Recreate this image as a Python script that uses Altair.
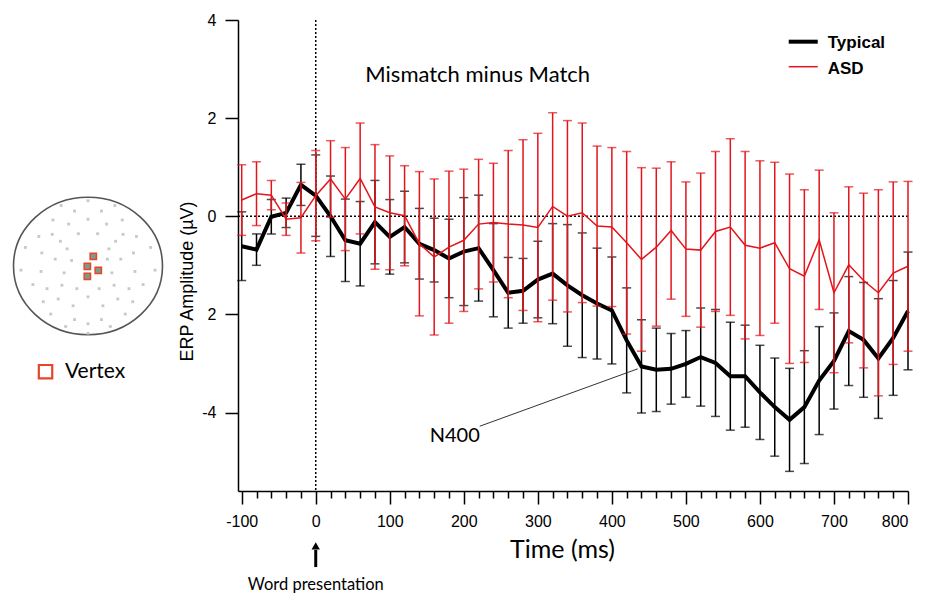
import altair as alt
import pandas as pd

# ---------------------------------------------------------------
# Grand-average difference waves (Mismatch minus Match), vertex
# ---------------------------------------------------------------
times = list(range(-100, 801, 20))

typical_mean = [-0.61, -0.68, -0.01, 0.07, 0.64, 0.42, 0.00, -0.49, -0.56, -0.12,
                -0.42, -0.22, -0.56, -0.69, -0.86, -0.72, -0.65, -1.10, -1.56, -1.52,
                -1.29, -1.17, -1.41, -1.61, -1.78, -1.92, -2.53, -3.06, -3.13, -3.11,
                -3.01, -2.87, -2.99, -3.26, -3.26, -3.59, -3.89, -4.15, -3.89, -3.35,
                -2.95, -2.34, -2.52, -2.90, -2.48, -1.93]
typical_err = [0.70, 0.32, 0.35, 0.30, 0.42, 0.83, 0.82, 0.84, 0.86, 0.85,
               0.76, 0.73, 0.72, 0.65, 0.80, 1.10, 1.08, 0.95, 0.72, 0.66,
               0.78, 1.02, 1.24, 1.27, 1.13, 1.09, 1.07, 0.95, 0.85, 0.72,
               0.68, 1.00, 1.09, 1.10, 1.04, 0.96, 1.00, 1.05, 1.15, 1.10,
               0.98, 1.11, 1.17, 1.22, 1.17, 1.20]

asd_mean = [0.33, 0.46, 0.43, -0.06, -0.03, 0.42, 0.76, 0.35, 0.77, 0.19,
            0.07, 0.01, -0.56, -0.83, -0.63, -0.49, -0.16, -0.13, -0.16, -0.18,
            -0.23, 0.20, 0.00, 0.07, -0.20, -0.22, -0.54, -0.88, -0.63, -0.29,
            -0.67, -0.69, -0.31, -0.22, -0.59, -0.65, -0.54, -1.07, -1.22, -0.48,
            -1.56, -0.99, -1.31, -1.56, -1.16, -1.02]
asd_err = [0.72, 0.65, 0.30, 0.33, 0.72, 0.92, 0.78, 1.05, 1.13, 1.27,
           1.16, 1.02, 1.47, 1.59, 1.55, 1.45, 1.32, 1.21, 1.50, 1.74,
           1.92, 1.91, 1.95, 1.83, 1.63, 1.62, 1.86, 1.87, 1.61, 1.40,
           1.37, 1.57, 1.63, 1.80, 1.91, 1.78, 1.64, 1.93, 1.76, 1.42,
           1.63, 1.59, 1.78, 2.10, 1.86, 1.73]

groups = ["Typical", "ASD"]
group_colors = ["#000000", "#e3141b"]
line_widths = [4, 1.5]

x_ticks = list(range(-100, 801, 20))
y_ticks = [-4, -2, 0, 2, 4]

# Electrode montage (unit head coordinates) and the vertex cluster
elec_u = [0.00, -0.36, 0.36, -0.18, 0.18, -0.47, 0.00, 0.46, -0.26, 0.25,
          -0.66, -0.48, -0.13, 0.13, 0.47, 0.65, -0.37, 0.37, -0.84, -0.62,
          -0.28, 0.28, 0.61, 0.84, -0.44, -0.22, 0.26, 0.44, -0.90, -0.63,
          -0.32, 0.32, 0.63, 0.90, -0.74, -0.55, -0.35, -0.15, 0.15, 0.35,
          0.55, 0.74, -0.60, -0.40, -0.20, 0.00, 0.20, 0.40, 0.60, -0.50,
          -0.18, 0.18, 0.50, -0.30, 0.00, 0.30, 0.00]
elec_v = [0.95, 0.88, 0.88, 0.80, 0.80, 0.67, 0.68, 0.67, 0.61, 0.61,
          0.43, 0.46, 0.47, 0.47, 0.46, 0.43, 0.36, 0.36, 0.27, 0.19,
          0.25, 0.25, 0.19, 0.27, 0.10, 0.08, 0.10, 0.10, -0.06, -0.08,
          -0.10, -0.10, -0.08, -0.06, -0.27, -0.33, -0.28, -0.33, -0.33, -0.28,
          -0.33, -0.27, -0.52, -0.48, -0.58, -0.45, -0.58, -0.48, -0.52, -0.70,
          -0.78, -0.78, -0.70, -0.88, -0.84, -0.88, -0.98]
vertex_u = [0.071, -0.009, 0.138, -0.009]
vertex_v = [0.140, -0.006, -0.064, -0.151]

# ---------------------------------------------------------------
# Main ERP panel
# ---------------------------------------------------------------
TICK_FONT = "Liberation Sans"
TEXT_FONT = "Lato"

x_scale = alt.Scale(domain=[-105, 800], nice=False, zero=False)
y_scale = alt.Scale(domain=[-5.6, 4], nice=False, zero=False)

x_axis = alt.Axis(
    values=x_ticks,
    labelExpr="datum.value % 100 === 0 ? toString(datum.value) : ''",
    tickSize={"condition": {"test": "datum.value % 100 === 0", "value": 13}, "value": 7},
    tickWidth=1.5, tickColor="black", domainColor="black", domainWidth=1.5,
    labelFont=TICK_FONT, labelFontSize=16, labelColor="black", labelPadding=9,
    labelOverlap=False, grid=False,
    title="Time (ms)", titleFont=TEXT_FONT, titleFontSize=25,
    titleFontWeight="normal", titleColor="black", titlePadding=8, titleX=324,
)
y_axis = alt.Axis(
    values=y_ticks,
    labelExpr="datum.value === -2 ? '2' : toString(datum.value)",
    tickSize=13, tickWidth=1.5, tickColor="black", domainColor="black", domainWidth=1.5,
    labelFont=TICK_FONT, labelFontSize=16, labelColor="black", labelPadding=9,
    grid=False,
    title="ERP Amplitude (µV)", titleFont=TICK_FONT, titleFontSize=18,
    titleFontWeight="normal", titleColor="black", titlePadding=5, titleY=261,
)


def X(field):
    return alt.X(field, type="quantitative", scale=x_scale, axis=x_axis)


def Y(field):
    return alt.Y(field, type="quantitative", scale=y_scale, axis=y_axis)


rows = []
for g, means, errs in [("Typical", typical_mean, typical_err), ("ASD", asd_mean, asd_err)]:
    for t, m, e in zip(times, means, errs):
        rows.append({"group": g, "time": t, "amp": m, "lo": m - e, "hi": m + e})
erp = pd.DataFrame(rows)

zero_h = alt.Chart(pd.DataFrame({"v": [0]})).mark_rule(
    color="black", strokeWidth=1.5, strokeDash=[2, 2]
).encode(y=Y("v"))
zero_v = alt.Chart(pd.DataFrame({"t": [0]})).mark_rule(
    color="black", strokeWidth=1.5, strokeDash=[2, 2]
).encode(x=X("t"))


def series(group, color, width):
    d = erp[erp["group"] == group]
    base = alt.Chart(d)
    bars = base.mark_rule(color=color, strokeWidth=1.5).encode(
        x=X("time"), y=Y("lo"), y2="hi")
    cap_lo = base.mark_tick(color=color, orient="horizontal", size=9, thickness=1.5).encode(
        x=X("time"), y=Y("lo"))
    cap_hi = base.mark_tick(color=color, orient="horizontal", size=9, thickness=1.5).encode(
        x=X("time"), y=Y("hi"))
    line = base.mark_line(color=color, strokeWidth=width).encode(
        x=X("time"), y=Y("amp"))
    return [bars, cap_lo, cap_hi, line]


layers = [zero_h, zero_v]
for g, c, w in zip(groups, group_colors, line_widths):
    layers += series(g, c, w)

# Panel heading
heading = alt.Chart(pd.DataFrame({"t": [218.8], "v": [2.88], "s": ["Mismatch minus Match"]})).mark_text(
    font=TEXT_FONT, fontSize=22, color="black", align="center", baseline="middle"
).encode(x=X("t"), y=Y("v"), text="s")

# N400 callout
n400_line = alt.Chart(pd.DataFrame({"t": [221.5], "v": [-4.28], "t2": [434.9], "v2": [-3.11]})).mark_rule(
    color="#333333", strokeWidth=1
).encode(x=X("t"), y=Y("v"), x2="t2", y2="v2")
n400_text = alt.Chart(pd.DataFrame({"t": [153.9], "v": [-4.48], "s": ["N400"]})).mark_text(
    font=TEXT_FONT, fontSize=20, color="black", align="left", baseline="middle"
).encode(x=X("t"), y=Y("v"), text="s")

# Series key
key = pd.DataFrame({
    "group": groups, "t": [638.9, 638.9], "t2": [678.1, 678.1],
    "v": [3.558, 3.048], "tl": [691.6, 691.6], "vl": [3.53, 3.0],
})
key_lines = alt.Chart(key).mark_rule().encode(
    x=X("t"), x2="t2", y=Y("v"),
    color=alt.Color("group:N", scale=alt.Scale(domain=groups, range=group_colors), legend=None),
    strokeWidth=alt.StrokeWidth("group:N", scale=alt.Scale(domain=groups, range=line_widths), legend=None),
)
key_text = alt.Chart(key).mark_text(
    font=TICK_FONT, fontSize=17, fontWeight="bold", color="black", align="left", baseline="middle"
).encode(x=X("tl"), y=Y("vl"), text="group:N")

# Stimulus-onset marker below the time axis
onset = pd.DataFrame({"t": [0], "v": [-6.80], "v2": [-7.15], "vh": [-6.72], "vt": [-7.52],
                      "s": ["Word presentation"]})
arrow_shaft = alt.Chart(onset).mark_rule(color="black", strokeWidth=3).encode(
    x=X("t"), y=Y("v"), y2="v2")
arrow_head = alt.Chart(onset).mark_point(
    shape="triangle-up", filled=True, color="black", size=70, opacity=1
).encode(x=X("t"), y=Y("vh"))
onset_text = alt.Chart(onset).mark_text(
    font=TEXT_FONT, fontSize=16.5, color="black", align="center", baseline="middle"
).encode(x=X("t"), y=Y("vt"), text="s")

layers += [heading, n400_line, n400_text, key_lines, key_text, arrow_shaft, arrow_head, onset_text]

main = alt.layer(*layers).properties(width=670, height=471)

# ---------------------------------------------------------------
# Sensor layout inset
# ---------------------------------------------------------------
SCALP_W, SCALP_H = 165, 380
RX, RY = 74.5, 68.7      # pixels per head unit
CX, CY = 88, 246         # head centre inside the inset

su = alt.Scale(domain=[-CX / RX, (SCALP_W - CX) / RX], nice=False, zero=False)
sv = alt.Scale(domain=[-(SCALP_H - CY) / RY, CY / RY], nice=False, zero=False)


def U(field):
    return alt.X(field, type="quantitative", scale=su, axis=None)


def V(field):
    return alt.Y(field, type="quantitative", scale=sv, axis=None)


head_path = ("M-1,0C-1,-0.509,-0.552,-0.922,0,-0.922C0.552,-0.922,1,-0.509,1,0"
             "C1,0.509,0.552,0.922,0,0.922C-0.552,0.922,-1,0.509,-1,0Z")
head = alt.Chart(pd.DataFrame({"u": [0], "v": [0]})).mark_point(
    shape=head_path, size=(2 * RX) ** 2, filled=False, stroke="#555555", strokeWidth=1.6, opacity=1
).encode(x=U("u"), y=V("v"))

electrodes = alt.Chart(pd.DataFrame({"u": elec_u, "v": elec_v})).mark_square(
    size=8, color="#b9c2bd", opacity=0.85
).encode(x=U("u"), y=V("v"))

vertex = alt.Chart(pd.DataFrame({"u": vertex_u, "v": vertex_v})).mark_square(
    size=40, fill="#7d9a8c", fillOpacity=1, stroke="#e5462b", strokeWidth=1.5
).encode(x=U("u"), y=V("v"))

vkey = pd.DataFrame({"u": [-0.570], "v": [-1.539], "ut": [-0.309], "s": ["Vertex"]})
vkey_box = alt.Chart(vkey).mark_square(
    size=180, filled=False, stroke="#e5462b", strokeWidth=2.2, opacity=1
).encode(x=U("u"), y=V("v"))
vkey_text = alt.Chart(vkey).mark_text(
    font=TEXT_FONT, fontSize=21, color="black", align="left", baseline="middle"
).encode(x=U("ut"), y=V("v"), text="s")

scalp = alt.layer(head, electrodes, vertex, vkey_box, vkey_text).properties(
    width=SCALP_W, height=SCALP_H)

chart = alt.hconcat(scalp, main, spacing=12).properties(
    padding={"left": 0, "top": 12, "right": 0, "bottom": 0},
    background="white",
).configure_view(stroke=None)

chart.save("out.html", embed_options={"renderer": "svg", "actions": False})
